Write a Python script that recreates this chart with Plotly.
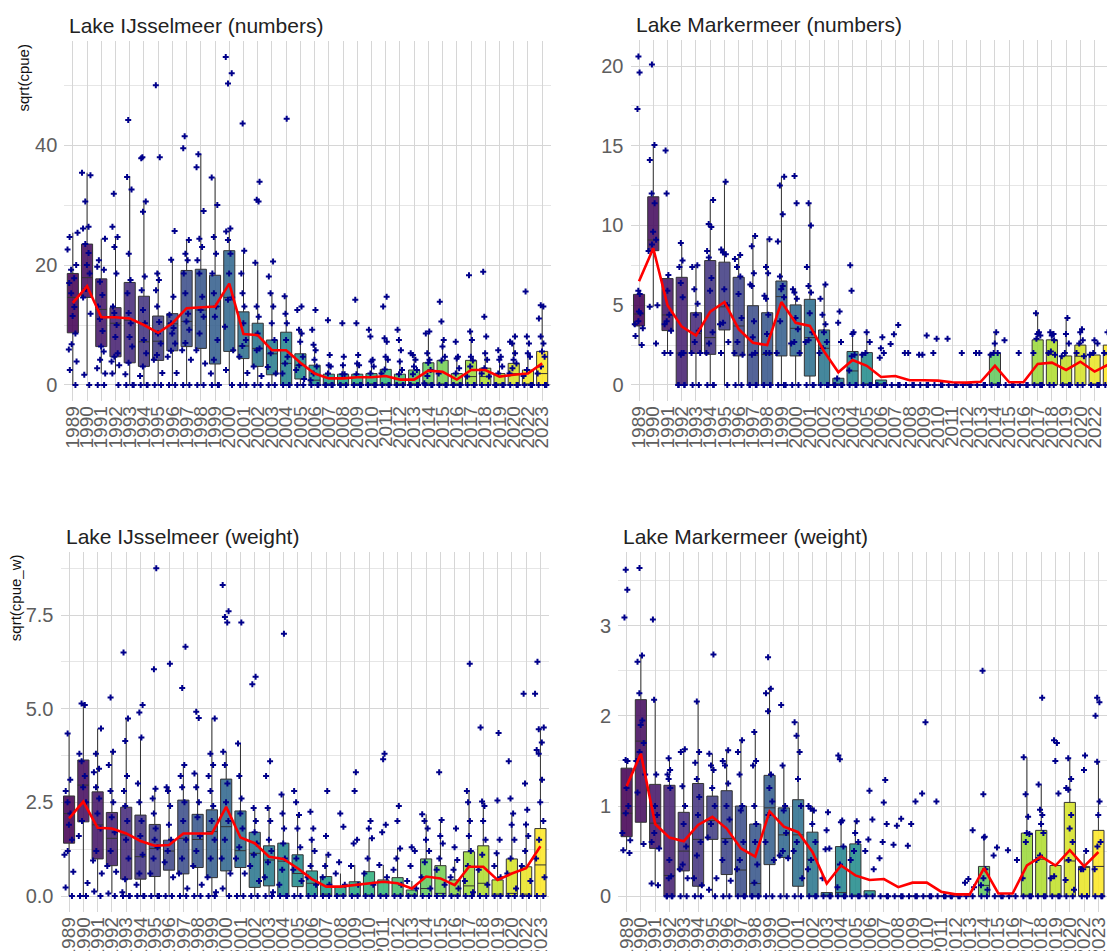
import plotly.graph_objects as go
from plotly.colors import sample_colorscale

W, H = 1107, 951
YEARS = [str(y) for y in range(1989, 2021)] + ["2022", "2023"]

# ---------------- Lake IJsselmeer (numbers) ----------------
P1_Q1 = [8.7, 14.6, 6.4, 4.7, 3.7, 3.1, 4.1, 5.7, 6.4, 6.1, 3.5, 5.6, 4.4, 3.1, 1.7, 0, 1.0, 0, 0, 0, 0, 0, 0, 0, 0, 0, 0, 0, 0, 0, 0, 0, 0, 0]
P1_MED = [14.6, 17.9, 12.6, 10.3, 10.8, 7.2, 7.3, 10.2, 10.6, 12.5, 13.1, 14.6, 6.5, 6.1, 5.2, 3.6, 3.3, 0.8, 0, 0, 0, 0, 0, 0, 0, 0.3, 0, 0, 1.4, 1.4, 0, 1.9, 0, 1.9]
P1_Q3 = [18.6, 23.5, 17.7, 12.9, 17.1, 14.8, 11.5, 11.9, 19.1, 19.3, 18.3, 22.4, 12.2, 10.3, 7.5, 8.8, 5.2, 3.3, 1.8, 1.8, 1.8, 1.9, 2.6, 1.8, 2.5, 3.7, 4.1, 1.9, 4.1, 2.8, 1.9, 3.6, 2.5, 5.6]
P1_LO = [0, 1.7, 1.9, 1.9, 0, 0, 0, 0, 0, 0, 0, 0, 0, 0, 0, 0, 0, 0, 0, 0, 0, 0, 0, 0, 0, 0, 0, 0, 0, 0, 0, 0, 0, 0]
P1_HI = [25.4, 35.4, 24.4, 24.7, 34.8, 30.8, 19.0, 20.9, 24.2, 38.5, 34.6, 26.1, 22.4, 20.4, 15.3, 14.8, 9.2, 6.7, 3.3, 3.3, 3.6, 3.9, 4.7, 3.9, 5.0, 8.9, 7.5, 4.4, 8.9, 5.3, 4.2, 6.9, 5.3, 13.3]
P1_MEAN = [13.7, 16.5, 11.3, 11.3, 11.1, 10.0, 8.7, 10.3, 12.8, 12.9, 13.1, 16.9, 8.5, 8.3, 5.8, 5.8, 3.7, 1.9, 1.1, 1.1, 1.3, 1.3, 1.5, 0.9, 0.9, 2.4, 2.2, 0.9, 2.5, 2.5, 1.4, 1.7, 1.9, 3.6]
P1_PTS = [
    [25.4, 24.7, 22.6, 20.0, 19.2, 17.8, 17.0, 15.3, 13.0, 11.5, 8.6, 6.8, 5.9, 3.9, 2.5, 0],
    [35.4, 35.0, 30.6, 26.4, 26.1, 23.5, 22.0, 20.0, 18.6, 16.0, 14.6, 11.9, 1.7, 0],
    [24.4, 20.8, 19.7, 19.2, 17.2, 15.0, 13.1, 11.0, 9.0, 6.4, 5.6, 4.2, 2.8, 1.9, 0, 0],
    [31.9, 26.4, 24.7, 23.0, 18.6, 13.1, 12.0, 10.0, 8.0, 5.3, 4.7, 3.9, 3.3, 1.9, 0],
    [44.2, 34.7, 32.6, 21.9, 17.5, 15.3, 12.0, 10.3, 8.0, 6.4, 3.7, 1.8, 0, 0, 0],
    [38.0, 37.8, 30.6, 28.9, 18.1, 15.8, 12.5, 10.3, 7.5, 5.3, 3.1, 1.5, 0, 0, 0],
    [50.0, 38.0, 18.6, 17.5, 15.8, 13.1, 10.5, 8.6, 6.9, 5.0, 4.2, 2.0, 0, 0],
    [25.7, 20.9, 14.7, 11.7, 10.3, 9.5, 8.6, 6.9, 5.7, 4.7, 2.0, 0, 0],
    [41.5, 39.5, 24.2, 21.9, 20.8, 18.6, 15.3, 11.9, 10.6, 9.2, 7.0, 5.8, 4.2, 0, 0],
    [38.5, 36.3, 29.0, 24.4, 23.0, 20.8, 18.6, 14.7, 12.5, 11.4, 8.6, 5.8, 3.6, 0, 0],
    [34.6, 30.0, 24.7, 21.9, 18.6, 15.3, 13.1, 11.4, 7.5, 4.2, 1.9, 0, 0, 0],
    [54.7, 52.0, 50.3, 26.1, 25.6, 24.2, 21.9, 18.6, 14.6, 14.2, 9.7, 5.8, 2.5, 0],
    [43.6, 22.4, 18.6, 15.3, 13.1, 10.3, 7.5, 6.5, 4.7, 2.0, 0, 0],
    [33.9, 30.9, 30.6, 20.4, 13.1, 11.4, 8.6, 6.1, 5.8, 3.1, 1.5, 0, 0],
    [20.6, 18.1, 15.3, 13.1, 10.3, 7.5, 5.3, 3.0, 1.9, 0, 0],
    [44.4, 14.8, 11.9, 10.3, 7.5, 4.7, 3.6, 1.9, 0, 0, 0],
    [13.1, 12.5, 9.2, 8.6, 7.2, 4.7, 3.3, 2.5, 1.0, 0, 0],
    [12.5, 9.2, 6.7, 5.8, 4.2, 3.1, 1.9, 0.8, 0, 0, 0],
    [10.8, 5.0, 3.3, 3.1, 1.9, 0, 0, 0, 0],
    [10.3, 4.7, 3.3, 1.8, 1.8, 0, 0, 0, 0],
    [14.2, 10.3, 5.0, 3.6, 3.3, 1.8, 0, 0, 0, 0],
    [9.2, 8.1, 4.2, 3.9, 3.1, 1.9, 0, 0, 0, 0],
    [14.7, 13.1, 7.8, 7.2, 4.7, 4.2, 2.6, 1.9, 0, 0, 0],
    [9.2, 7.5, 5.8, 3.9, 2.5, 1.8, 0, 0, 0, 0],
    [5.3, 5.0, 4.2, 3.1, 2.5, 1.8, 0, 0, 0, 0],
    [8.9, 8.6, 5.3, 4.2, 3.7, 2.5, 1.5, 0.3, 0, 0, 0],
    [13.9, 10.6, 7.5, 6.4, 4.7, 4.1, 1.9, 0, 0, 0],
    [7.2, 4.7, 4.4, 2.8, 1.9, 0, 0, 0, 0],
    [18.3, 8.9, 7.5, 4.7, 4.1, 3.1, 1.4, 0, 0, 0],
    [18.9, 11.4, 8.1, 5.3, 4.2, 2.8, 1.9, 1.4, 0, 0],
    [5.8, 4.7, 4.2, 3.1, 1.9, 0, 0, 0, 0],
    [8.1, 7.2, 6.9, 5.3, 4.2, 3.6, 2.8, 1.9, 0, 0, 0],
    [15.6, 8.1, 6.9, 5.3, 4.7, 2.5, 1.5, 0, 0, 0],
    [13.3, 13.1, 11.1, 8.1, 6.9, 5.6, 4.7, 3.1, 1.9, 0, 0, 0],
]

# ---------------- Lake Markermeer (numbers) ----------------
P2_Q1 = [3.7, 8.42, 3.41, 0, 1.98, 1.92, 3.45, 1.82, 0, 0, 1.82, 1.82, 0.56, 0, 0, 0, 0, 0, 0, 0, 0, 0, 0, 0, 0, 0, 0, 0, 0, 0, 0, 0, 0, 0]
P2_MED = [4.45, 9.09, 4.39, 2.0, 3.24, 2.97, 4.9, 3.7, 1.88, 1.92, 5.54, 3.55, 2.97, 2.3, 0, 0.88, 0, 0, 0, 0, 0, 0, 0, 0, 0, 0, 0, 0, 0, 1.9, 0, 1.8, 0, 1.9]
P2_Q3 = [5.68, 11.8, 6.67, 6.75, 4.53, 7.8, 7.7, 6.75, 4.97, 4.53, 6.52, 5.02, 5.37, 3.45, 0.42, 2.1, 2.03, 0.31, 0, 0, 0, 0, 0, 0, 0, 2.0, 0, 0, 2.83, 2.83, 1.82, 2.5, 1.88, 2.5]
P2_LO = [2.5, 4.9, 2.0, 0, 0, 0, 0, 0, 0, 0, 0, 0, 0, 0, 0, 0, 0, 0, 0, 0, 0, 0, 0, 0, 0, 0, 0, 0, 0, 0, 0, 0, 0, 0]
P2_HI = [5.9, 15.05, 6.9, 8.9, 7.5, 11.6, 12.75, 8.15, 9.34, 9.13, 13.06, 6.06, 11.4, 6.3, 0.42, 3.24, 3.24, 0.31, 0, 0, 0, 0, 0, 0, 0, 3.3, 0, 0, 4.5, 3.3, 4.18, 3.5, 2.8, 3.6]
P2_MEAN = [6.5, 8.57, 5.0, 3.66, 3.1, 4.6, 5.2, 3.5, 2.65, 2.5, 5.2, 3.9, 3.7, 2.1, 0.8, 1.57, 1.2, 0.5, 0.56, 0.3, 0.3, 0.27, 0.17, 0.15, 0.2, 1.2, 0.17, 0.17, 1.32, 1.4, 0.94, 1.46, 0.84, 1.3]
P2_PTS = [
    [20.6, 19.6, 17.3, 5.9, 5.7, 4.6, 4.5, 4.0, 3.8, 3.55, 3.07, 2.5],
    [20.1, 15.05, 14.1, 12.0, 11.4, 9.6, 9.1, 8.8, 8.4, 5.0, 4.9, 2.6],
    [14.7, 12.0, 6.9, 5.9, 4.4, 4.0, 3.8, 3.4, 2.0, 2.0],
    [8.9, 7.8, 7.4, 6.4, 5.5, 2.0, 2.0, 1.9, 0, 0, 0, 0],
    [7.5, 7.4, 6.0, 5.1, 4.4, 3.4, 2.7, 2.0, 2.0, 0, 0],
    [11.6, 10.1, 9.9, 8.4, 8.0, 6.7, 5.9, 3.3, 2.6, 2.0, 0, 0, 0],
    [12.75, 8.5, 8.3, 8.2, 6.0, 5.0, 3.9, 3.8, 2.7, 2.0, 0],
    [8.15, 7.9, 7.4, 6.8, 5.7, 4.2, 2.7, 2.0, 1.9, 0, 0],
    [9.34, 8.7, 7.0, 6.3, 6.2, 4.0, 3.0, 2.0, 1.9, 0, 0, 0, 0],
    [9.13, 7.4, 7.0, 5.6, 5.4, 4.4, 3.2, 2.0, 2.0, 0, 0, 0, 0],
    [13.06, 12.5, 10.7, 9.0, 6.8, 6.2, 6.0, 5.5, 4.0, 2.0, 0, 0, 0],
    [13.1, 11.4, 6.0, 5.8, 5.4, 4.2, 3.5, 2.7, 2.6, 2.0, 0, 0],
    [11.4, 10.0, 7.4, 6.2, 5.8, 4.5, 3.3, 2.8, 2.7, 0, 0, 0],
    [6.3, 5.4, 4.4, 3.8, 3.3, 2.7, 2.3, 2.0, 0, 0, 0],
    [4.6, 3.9, 2.7, 0.4, 0, 0, 0, 0],
    [7.5, 5.9, 3.3, 3.2, 1.9, 1.8, 0.9, 0, 0, 0],
    [3.3, 2.7, 2.0, 1.9, 0, 0, 0],
    [3.0, 2.3, 2.0, 1.7, 0, 0, 0, 0],
    [3.76, 3.18, 2.57, 0, 0, 0],
    [2.0, 2.0, 0, 0, 0],
    [3.1, 1.9, 1.9, 0, 0, 0],
    [2.9, 2.0, 0, 0, 0],
    [2.9, 0, 0, 0],
    [2.0, 0, 0, 0],
    [2.0, 2.0, 0, 0, 0],
    [3.3, 2.6, 2.0, 2.0, 1.9, 0, 0, 0],
    [2.8, 0, 0, 0],
    [2.0, 0, 0, 0],
    [4.5, 3.3, 3.2, 3.1, 2.9, 2.0, 0, 0, 0],
    [3.3, 3.2, 3.1, 2.8, 2.1, 2.0, 1.9, 0, 0],
    [4.2, 3.2, 2.6, 2.0, 1.8, 0, 0, 0],
    [3.5, 3.3, 2.8, 2.6, 2.0, 1.8, 0, 0],
    [2.8, 2.6, 2.0, 1.9, 0, 0, 0],
    [3.6, 3.3, 2.0, 1.9, 0, 0],
]

# ---------------- Lake IJsselmeer (weight) ----------------
P3_Q1 = [1.41, 1.98, 0.99, 0.81, 0.45, 0.45, 0.52, 0.69, 0.59, 0.76, 0.49, 0.67, 0.76, 0.23, 0.27, 0, 0.25, 0, 0, 0, 0, 0, 0, 0, 0, 0, 0, 0, 0, 0, 0, 0, 0, 0]
P3_MED = [2.2, 2.96, 1.9, 1.54, 1.63, 1.05, 1.27, 1.2, 1.54, 1.51, 1.72, 1.85, 1.21, 1.14, 0.96, 0.93, 0.6, 0.34, 0.05, 0, 0, 0, 0, 0, 0, 0.2, 0.07, 0, 0.27, 0.34, 0.05, 0.07, 0.05, 0.83]
P3_Q3 = [2.67, 3.63, 2.78, 2.23, 2.37, 2.16, 1.91, 1.49, 2.56, 2.18, 2.3, 3.12, 2.27, 1.7, 1.34, 1.41, 1.1, 0.67, 0.52, 0.25, 0.38, 0.65, 0.43, 0.49, 0.16, 0.99, 0.81, 0.43, 1.18, 1.34, 0.43, 0.99, 0.78, 1.8]
P3_LO = [0, 0, 0.12, 0.07, 0, 0, 0, 0, 0, 0, 0, 0, 0, 0, 0, 0, 0, 0, 0, 0, 0, 0, 0, 0, 0, 0, 0, 0, 0, 0, 0, 0, 0, 0]
P3_HI = [4.34, 5.14, 4.47, 3.85, 4.74, 4.23, 2.86, 2.9, 3.5, 3.27, 4.74, 3.85, 4.07, 2.35, 2.35, 2.71, 2.16, 1.5, 1.1, 0.6, 0.83, 1.54, 0.83, 1.27, 0.4, 2.18, 2.03, 0.96, 2.8, 2.52, 1.14, 2.2, 1.91, 4.49]
P3_MEAN = [2.07, 2.52, 1.82, 1.8, 1.67, 1.47, 1.34, 1.36, 1.67, 1.67, 1.67, 2.38, 1.56, 1.41, 1.05, 0.99, 0.74, 0.45, 0.25, 0.25, 0.29, 0.34, 0.38, 0.34, 0.2, 0.52, 0.47, 0.29, 0.78, 0.78, 0.43, 0.6, 0.74, 1.33]
P3_PTS = [
    [4.34, 3.1, 2.8, 2.5, 2.2, 1.9, 1.5, 1.2, 1.1, 0.65, 0.23, 0],
    [5.14, 5.1, 3.8, 3.6, 3.2, 2.9, 2.5, 2.0, 1.6, 0.35, 0, 0],
    [4.47, 3.8, 3.4, 3.3, 2.9, 2.6, 2.2, 1.8, 1.2, 0.95, 0.6, 0.12, 0],
    [5.3, 3.85, 3.5, 2.8, 2.5, 2.1, 1.7, 1.2, 0.8, 0.65, 0.07, 0],
    [6.5, 4.74, 4.14, 3.2, 2.8, 2.4, 2.0, 1.5, 1.0, 0.45, 0.1, 0, 0, 0],
    [5.1, 4.9, 4.23, 3.0, 2.5, 2.0, 1.6, 1.1, 0.6, 0.3, 0, 0, 0],
    [8.75, 6.05, 2.86, 2.6, 2.2, 1.8, 1.5, 1.3, 1.0, 0.6, 0, 0, 0],
    [6.2, 2.9, 2.8, 2.4, 1.9, 1.5, 1.2, 0.9, 0.5, 0, 0],
    [6.65, 5.55, 3.5, 3.2, 2.9, 2.5, 2.0, 1.5, 1.0, 0.6, 0.2, 0, 0],
    [4.92, 4.75, 3.27, 2.9, 2.5, 2.1, 1.6, 1.2, 0.8, 0.3, 0, 0],
    [4.74, 3.8, 3.5, 3.2, 2.8, 2.4, 2.0, 1.5, 1.0, 0.5, 0.1, 0, 0],
    [8.3, 7.6, 7.45, 7.3, 3.85, 3.5, 3.0, 2.5, 2.0, 1.5, 1.0, 0.6, 0.2, 0],
    [7.3, 4.07, 3.2, 2.6, 2.2, 1.8, 1.3, 1.0, 0.6, 0, 0],
    [5.85, 5.65, 2.35, 2.0, 1.7, 1.4, 1.1, 0.8, 0.4, 0, 0],
    [3.6, 3.2, 2.35, 2.0, 1.5, 1.2, 0.9, 0.5, 0.1, 0, 0],
    [7.0, 2.71, 2.2, 1.8, 1.4, 1.0, 0.7, 0.3, 0, 0, 0],
    [2.8, 2.5, 2.16, 1.8, 1.3, 1.0, 0.7, 0.4, 0, 0],
    [2.25, 1.8, 1.5, 1.2, 0.8, 0.5, 0.3, 0, 0],
    [2.8, 1.6, 1.1, 0.8, 0.5, 0.3, 0, 0],
    [2.2, 1.85, 0.9, 0.6, 0.3, 0, 0],
    [3.3, 2.8, 1.5, 1.4, 0.8, 0.3, 0, 0],
    [2.0, 1.8, 1.54, 1.0, 0.6, 0.3, 0, 0],
    [3.8, 3.65, 1.9, 1.7, 0.83, 0.5, 0, 0],
    [2.4, 2.0, 1.27, 1.0, 0.7, 0.3, 0, 0],
    [1.3, 1.2, 0.8, 0.4, 0.2, 0, 0],
    [2.18, 2.0, 1.8, 1.5, 1.2, 0.9, 0.5, 0.2, 0, 0],
    [3.3, 2.03, 1.6, 1.4, 1.0, 0.7, 0.3, 0, 0],
    [1.8, 1.3, 0.96, 0.7, 0.5, 0.2, 0, 0],
    [6.2, 2.8, 2.5, 2.0, 1.6, 1.2, 0.8, 0.4, 0.1, 0, 0],
    [4.5, 2.52, 2.4, 2.0, 1.5, 1.1, 0.7, 0.3, 0, 0],
    [4.35, 2.55, 1.5, 1.14, 0.8, 0.5, 0, 0],
    [3.6, 2.6, 2.2, 1.9, 1.5, 1.0, 0.6, 0.2, 0, 0],
    [5.4, 3.0, 2.3, 1.91, 1.6, 1.2, 0.8, 0.4, 0, 0],
    [6.25, 5.4, 4.5, 4.45, 4.1, 3.9, 3.8, 3.1, 2.5, 2.0, 1.5, 1.0, 0.5, 0, 0],
]

# ---------------- Lake Markermeer (weight) ----------------
P4_Q1 = [0.66, 0.82, 0.53, 0, 0.28, 0.11, 0.63, 0.24, 0, 0, 0.35, 0.43, 0.11, 0, 0, 0, 0, 0, 0, 0, 0, 0, 0, 0, 0, 0, 0, 0, 0, 0, 0, 0, 0, 0]
P4_MED = [0.92, 1.72, 0.81, 0.23, 0.5, 0.63, 0.84, 0.64, 0.29, 0.14, 0.98, 0.68, 0.68, 0.41, 0, 0.04, 0, 0, 0, 0, 0, 0, 0, 0, 0, 0.12, 0, 0, 0, 0.41, 0, 0.39, 0.33, 0.33]
P4_Q3 = [1.42, 2.18, 1.24, 1.23, 0.93, 1.25, 1.11, 1.17, 1.0, 0.8, 1.34, 0.98, 1.07, 0.71, 0.04, 0.55, 0.58, 0.06, 0, 0, 0, 0, 0, 0, 0, 0.33, 0, 0, 0.7, 0.73, 0.34, 1.04, 0.33, 0.73]
P4_LO = [0.51, 0.57, 0.12, 0, 0, 0, 0, 0, 0, 0, 0, 0, 0, 0, 0, 0, 0, 0, 0, 0, 0, 0, 0, 0, 0, 0, 0, 0, 0, 0, 0, 0, 0, 0]
P4_HI = [1.51, 2.67, 2.18, 1.53, 1.63, 2.16, 1.58, 1.62, 1.73, 1.82, 2.32, 1.45, 1.93, 1.0, 0.04, 0.82, 0.83, 0.06, 0, 0, 0, 0, 0, 0, 0, 0.66, 0, 0, 1.54, 1.24, 0.34, 1.53, 0.47, 1.49]
P4_MEAN = [1.22, 1.58, 0.8, 0.65, 0.61, 0.79, 0.88, 0.75, 0.53, 0.44, 0.94, 0.77, 0.71, 0.49, 0.14, 0.34, 0.23, 0.18, 0.19, 0.1, 0.15, 0.15, 0.05, 0.02, 0.02, 0.31, 0.03, 0.03, 0.34, 0.44, 0.34, 0.51, 0.33, 0.49]
P4_PTS = [
    [3.62, 3.4, 3.09, 1.51, 1.5, 1.2, 1.0, 0.92, 0.7, 0.62, 0.51, 0.48],
    [3.64, 2.67, 2.6, 2.25, 1.95, 1.9, 1.7, 1.6, 1.5, 1.35, 1.15, 0.58],
    [3.07, 2.18, 1.35, 1.0, 0.9, 0.7, 0.6, 0.53, 0.14, 0.12],
    [1.53, 1.4, 1.35, 1.3, 1.2, 0.4, 0.22, 0.2, 0, 0, 0, 0],
    [1.63, 1.6, 1.22, 1.0, 0.8, 0.55, 0.35, 0.3, 0.2, 0, 0],
    [2.16, 1.6, 1.48, 1.3, 1.1, 0.9, 0.6, 0.45, 0.2, 0.12, 0, 0],
    [2.68, 1.58, 1.45, 1.4, 1.2, 1.0, 0.8, 0.65, 0.2, 0.07, 0],
    [1.62, 1.5, 1.45, 1.25, 1.0, 0.85, 0.6, 0.4, 0.17, 0, 0],
    [1.73, 1.6, 1.35, 1.0, 0.95, 0.6, 0.4, 0.3, 0, 0, 0],
    [1.82, 1.5, 1.45, 1.0, 0.8, 0.6, 0.35, 0.15, 0, 0, 0, 0],
    [2.65, 2.3, 2.25, 2.05, 1.35, 1.2, 1.05, 0.9, 0.6, 0.4, 0, 0],
    [2.12, 1.45, 1.0, 0.95, 0.7, 0.5, 0.45, 0.42, 0, 0],
    [1.93, 1.78, 1.6, 1.3, 1.0, 0.6, 0.5, 0.2, 0, 0],
    [1.0, 0.97, 0.95, 0.8, 0.6, 0.4, 0.3, 0, 0, 0],
    [0.93, 0.73, 0.53, 0.52, 0.2, 0, 0, 0],
    [1.56, 1.52, 0.84, 0.82, 0.55, 0.35, 0.1, 0, 0, 0],
    [0.83, 0.7, 0.6, 0.5, 0.4, 0, 0, 0],
    [1.17, 0.85, 0.63, 0.5, 0.3, 0, 0],
    [1.29, 1.04, 0.8, 0.6, 0.42, 0, 0, 0],
    [0.86, 0.78, 0.57, 0, 0, 0],
    [1.05, 0.8, 0.56, 0, 0, 0],
    [1.93, 1.14, 0, 0, 0],
    [1.05, 0, 0, 0],
    [0, 0, 0, 0],
    [0.73, 0.19, 0.15, 0.1, 0, 0],
    [2.5, 1.13, 0.66, 0.65, 0.3, 0.2, 0.12, 0.07, 0, 0],
    [0.54, 0.45, 0, 0, 0],
    [0.51, 0.4, 0, 0],
    [1.54, 1.13, 0.88, 0.7, 0.69, 0.6, 0.2, 0, 0, 0],
    [2.2, 1.24, 0.96, 0.9, 0.8, 0.7, 0.45, 0.4, 0, 0, 0],
    [1.73, 1.7, 1.5, 1.14, 0.22, 0.2, 0, 0, 0],
    [1.53, 1.3, 1.2, 1.18, 0.9, 0.75, 0.6, 0.4, 0.18, 0.07, 0, 0],
    [1.56, 1.4, 0.5, 0.3, 0.3, 0, 0, 0],
    [2.2, 2.15, 2.0, 1.49, 1.05, 0.9, 0.6, 0.55, 0.3, 0, 0, 0],
]

TITLES = ["Lake IJsselmeer (numbers)", "Lake Markermeer (numbers)",
          "Lake IJsselmeer (weight)", "Lake Markermeer (weight)"]
YTITLES = ["sqrt(cpue)", None, "sqrt(cpue_w)", None]
YTITLE_X = [24, None, 15, None]   # px (centre of rotated text)

PANELS = [
    (P1_Q1, P1_MED, P1_Q3, P1_LO, P1_HI, P1_MEAN, P1_PTS),
    (P2_Q1, P2_MED, P2_Q3, P2_LO, P2_HI, P2_MEAN, P2_PTS),
    (P3_Q1, P3_MED, P3_Q3, P3_LO, P3_HI, P3_MEAN, P3_PTS),
    (P4_Q1, P4_MED, P4_Q3, P4_LO, P4_HI, P4_MEAN, P4_PTS),
]

# geometry in pixels: x0, x1, top, bottom, x-range end
GEOM = [
    (64.3, 550.7, 40.6, 401.4, 33.6),
    (630.5, 1107.0, 40.0, 401.4, 32.87),
    (60.5, 549.0, 551.7, 912.4, 33.6),
    (618.0, 1107.0, 551.8, 912.4, 33.6),
]
YRANGES = [[-2.74, 57.44], [-1.03, 21.63], [-0.4375, 9.19], [-0.18, 3.82]]
YTICKS = [([0, 20, 40], ["0", "20", "40"], [10, 30, 50]),
          ([0, 5, 10, 15, 20], ["0", "5", "10", "15", "20"], [2.5, 7.5, 12.5, 17.5]),
          ([0, 2.5, 5, 7.5], ["0.0", "2.5", "5.0", "7.5"], [1.25, 3.75, 6.25, 8.75]),
          ([0, 1, 2, 3], ["0", "1", "2", "3"], [0.5, 1.5, 2.5, 3.5])]


def fx(x):
    return x / W


def fy(y):
    return 1 - y / H


n = len(YEARS)
COLORS = sample_colorscale("Viridis", [i / (n - 1) for i in range(n)])


def rgba(c, a):
    c = c.replace("rgb(", "").replace(")", "")
    r, g, b = [float(v) for v in c.split(",")]
    return f"rgba({int(round(r))},{int(round(g))},{int(round(b))},{a})"


FONT = "Liberation Sans, Arial, sans-serif"
GRID = "#d6d6d6"
MINOR = "#e6e6e6"
TICKC = "#5e5e5e"

fig = go.Figure()
for p, (q1, med, q3, lo, hi, mean, pts) in enumerate(PANELS):
    xa = "x" if p == 0 else f"x{p + 1}"
    ya = "y" if p == 0 else f"y{p + 1}"
    for i, yr in enumerate(YEARS):
        fig.add_trace(go.Box(
            x=[yr], q1=[q1[i]], median=[med[i]], q3=[q3[i]],
            lowerfence=[lo[i]], upperfence=[hi[i]], y=[pts[i]],
            orientation="v", boxpoints="all", jitter=1, pointpos=0,
            width=0.78, whiskerwidth=0,
            fillcolor=rgba(COLORS[i], 0.88),
            line=dict(color="#333333", width=1),
            marker=dict(color="#00008B", size=5, symbol="cross"),
            xaxis=xa, yaxis=ya, showlegend=False, hoverinfo="skip",
        ))
for p, (q1, med, q3, lo, hi, mean, pts) in enumerate(PANELS):
    xa = "x" if p == 0 else f"x{p + 1}"
    ya = "y" if p == 0 else f"y{p + 1}"
    fig.add_trace(go.Scatter(x=YEARS, y=mean, mode="lines",
                             line=dict(color="#ff0000", width=2.6),
                             xaxis=xa, yaxis=ya, showlegend=False, hoverinfo="skip"))

layout = dict(width=W, height=H,
              margin=dict(l=0, r=0, t=0, b=0, pad=0, autoexpand=False),
              paper_bgcolor="white", plot_bgcolor="white", showlegend=False,
              font=dict(family=FONT), boxmode="overlay")
annotations = []
for p in range(4):
    x0, x1, top, bot, xend = GEOM[p]
    sfx = "" if p == 0 else str(p + 1)
    layout["xaxis" + sfx] = dict(
        domain=[fx(x0), min(1.0, fx(x1))], anchor="y" + sfx, type="category",
        categoryorder="array", categoryarray=YEARS, range=[-0.6, xend],
        tickmode="array", tickvals=YEARS, ticktext=YEARS, automargin=False,
        tickangle=-90, tickfont=dict(size=19, color=TICKC, family=FONT),
        showgrid=True, gridcolor=GRID, gridwidth=1.1, zeroline=False,
        showline=False, ticks="", fixedrange=True)
    tv, tt, mv = YTICKS[p]
    layout["yaxis" + sfx] = dict(
        domain=[fy(bot), fy(top)], anchor="x" + sfx, range=YRANGES[p],
        tickvals=tv, ticktext=tt, automargin=False, ticklabelstandoff=6,
        tickfont=dict(size=20, color=TICKC, family=FONT),
        showgrid=True, gridcolor=GRID, gridwidth=1.1, zeroline=False,
        showline=False, ticks="", fixedrange=True,
        minor=dict(tickvals=mv, showgrid=True, gridcolor=MINOR, gridwidth=0.8))
    annotations.append(dict(text=TITLES[p], xref="paper", yref="paper",
                            x=fx(x0 + 3), y=fy(top - 15), xanchor="left",
                            yanchor="middle", showarrow=False,
                            font=dict(size=21, color="#222222", family=FONT)))
    if YTITLES[p]:
        annotations.append(dict(text=YTITLES[p], xref="paper", yref="paper",
                                x=fx(YTITLE_X[p]), y=fy(top + 1),
                                xanchor="center", yanchor="top", textangle=-90,
                                showarrow=False,
                                font=dict(size=15, color="#111111", family=FONT)))
layout["annotations"] = annotations
fig.update_layout(**layout)
fig.write_html("out.html", config={"displayModeBar": False},
               post_script="document.body.style.margin='0px';"
                           "document.body.style.overflow='hidden';")
